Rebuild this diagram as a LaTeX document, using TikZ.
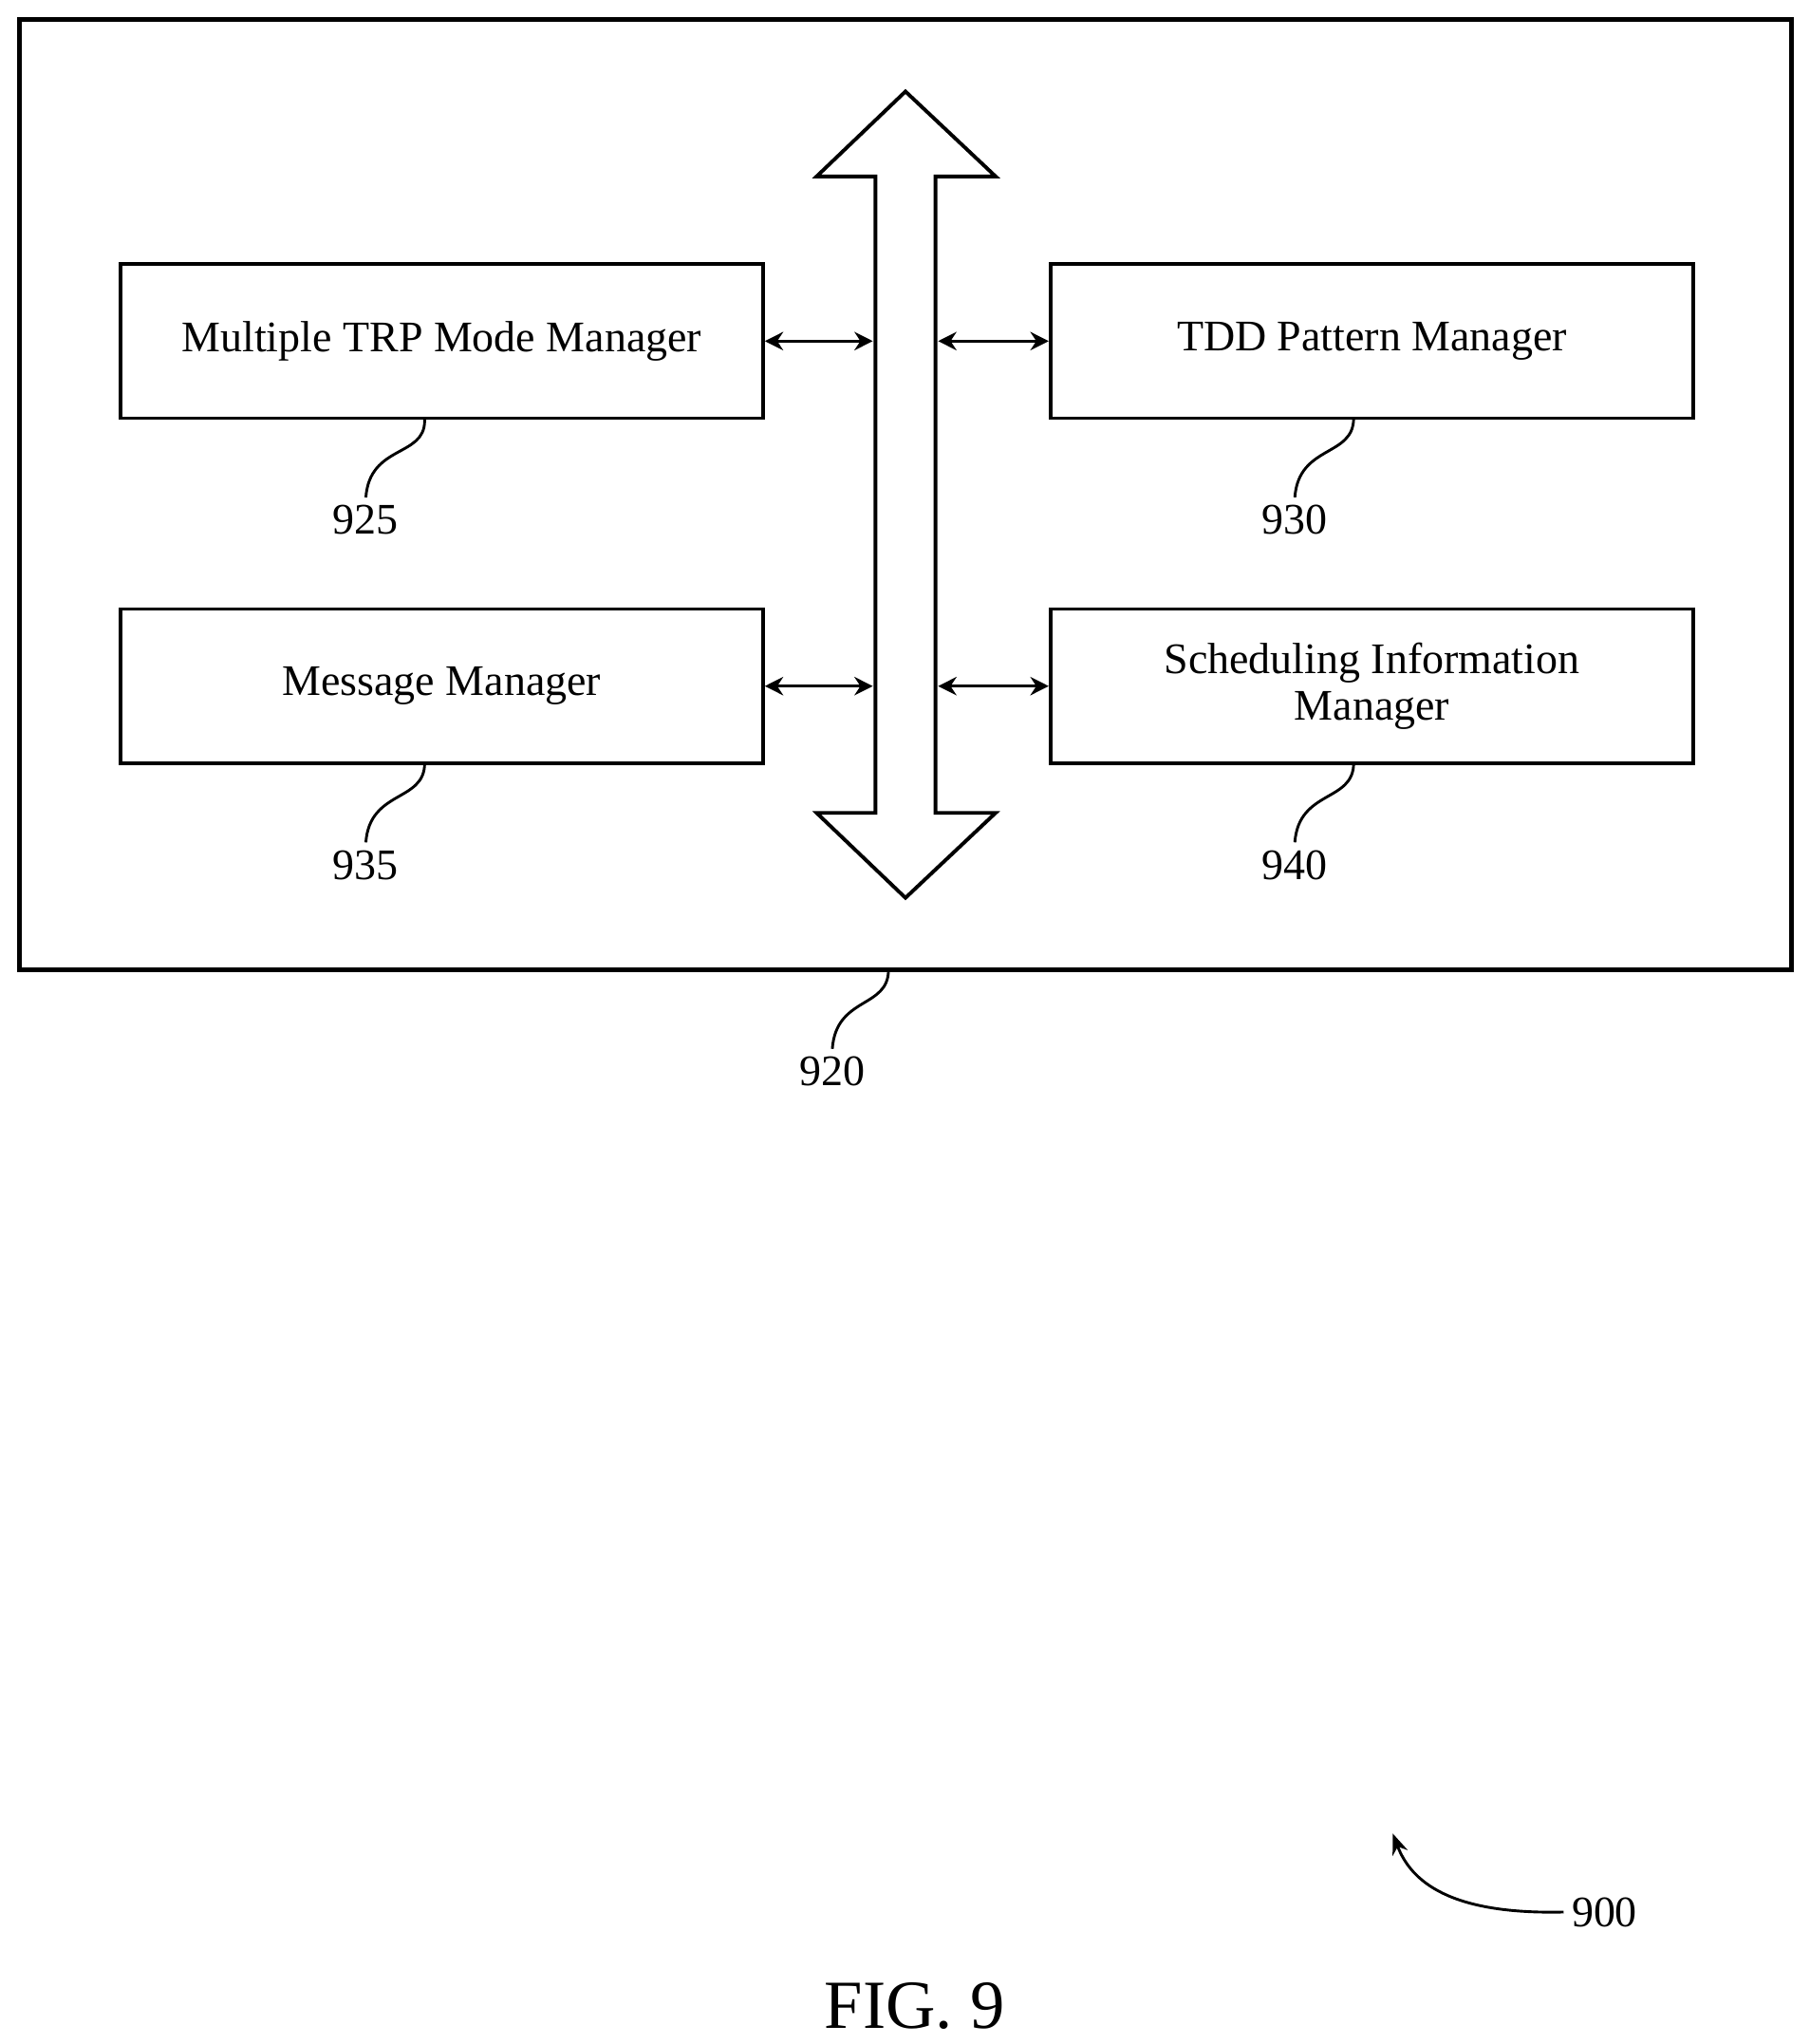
\documentclass[tikz,border=0pt]{standalone}
\usepackage{fontspec}
\setmainfont{Liberation Serif}
\usetikzlibrary{arrows.meta}
\tikzset{
block/.style={rectangle, draw=black, line width=1.6pt, minimum width=9.84cm, minimum height=2.36cm, text centered, align=center, font=\fontsize{19}{22}\selectfont},
arrow/.style={line width=1.4pt,{Stealth[length=8pt,width=8pt]}-{Stealth[length=8pt,width=8pt]}},
lead/.style={line width=1.2pt},
num/.style={font=\fontsize{19}{22}\selectfont}}
\begin{document}
\begin{tikzpicture}[x=0.02cm,y=-0.02cm]
\useasboundingbox (0,0) rectangle (1385,1564);
\draw [line width=1.8pt] (15,15) rectangle (1371,742);
\node (trp) [block] at (338,261) {Multiple TRP Mode Manager};
\node (tdd) [block] at (1050,261) {TDD Pattern Manager};
\node (msg) [block] at (338,525) {Message Manager};
\node (sched) [block] at (1050,525) {Scheduling Information\\[-2pt]Manager};
% bus
\draw [line width=1.6pt, line join=miter] (693,70) -- (762,135) -- (716,135) -- (716,622) -- (762,622) -- (693,687) -- (625,622) -- (670,622) -- (670,135) -- (625,135) -- cycle;
\coordinate (bl1) at (668,261);
\coordinate (br1) at (718,261);
\coordinate (bl2) at (668,525);
\coordinate (br2) at (718,525);
\draw [arrow] (trp.east) -- (bl1);
\draw [arrow] (br1) -- (tdd.west);
\draw [arrow] (msg.east) -- (bl2);
\draw [arrow] (br2) -- (sched.west);
% reference numbers
\node (n925) [num] at (280,398) {925};
\node (n930) [num] at (991,398) {930};
\node (n935) [num] at (280,662) {935};
\node (n940) [num] at (991,662) {940};
\node (n920) [num] at (637,820) {920};
\draw [lead] (325,320) to[out=90,in=90,looseness=0] (325,322) .. controls (325,350) and (283,340) .. (n925.north);
\draw [lead] (1036,320) .. controls (1036,350) and (994,340) .. (n930.north);
\draw [lead] (325,584) .. controls (325,614) and (283,604) .. (n935.north);
\draw [lead] (1036,584) .. controls (1036,614) and (994,604) .. (n940.north);
\draw [lead] (680,742) .. controls (680,772) and (640,762) .. (n920.north);
\node (n900) [num] at (1228,1463) {900};
\draw [lead, -{Stealth[length=9pt,width=7pt]}] (n900.west) .. controls (1110,1465) and (1080,1440) .. (1066,1403);
\node (fig) [font=\fontsize{30}{34}\selectfont] at (700,1535) {FIG. 9};
\end{tikzpicture}
\end{document}
